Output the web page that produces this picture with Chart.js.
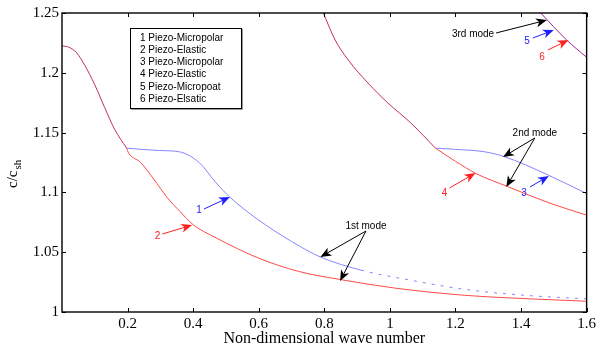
<!DOCTYPE html>
<html lang="en">
<head>
<meta charset="UTF-8">
<title>Dispersion curves</title>
<script src="https://cdn.jsdelivr.net/npm/chart.js"></script>
<style>
    html, body { margin: 0; padding: 0; background: #fff; }
    #wrap { width: 599px; height: 347px; position: relative; }
</style>
</head>
<body>
<div id="wrap"><canvas id="chart"></canvas></div>
<script>
    // tick labels
    const xTicks = [0.2, 0.4, 0.6, 0.8, 1.0, 1.2, 1.4, 1.6];
    const yTicks = [1, 1.05, 1.1, 1.15, 1.2, 1.25];

    // 1st mode: common part, then micropolar (1) and elastic (2)
    const m1SharedX = [0, 0.02, 0.045, 0.07, 0.1, 0.13, 0.16, 0.197];
    const m1SharedY = [1.2225, 1.2215, 1.2166, 1.206, 1.190, 1.171, 1.153, 1.137];
    const m1MicroX = [0.197, 0.297, 0.357, 0.418, 0.47, 0.512, 0.594, 0.7, 0.788, 0.912, 1.055, 1.227, 1.409, 1.6];
    const m1MicroY = [1.137, 1.135, 1.134, 1.125, 1.108, 1.096, 1.078, 1.059, 1.046, 1.035, 1.027, 1.019, 1.014, 1.011];
    const m1ElastX = [0.197, 0.203, 0.24, 0.28, 0.32, 0.36, 0.40, 0.47, 0.6, 0.721, 0.852, 1.015, 1.227, 1.427, 1.6];
    const m1ElastY = [1.137, 1.133, 1.125, 1.111, 1.096, 1.084, 1.073, 1.062, 1.045, 1.034, 1.027, 1.020, 1.014, 1.011, 1.009];

    // 2nd mode: common part, then micropolar (3) and elastic (4)
    const m2SharedX = [0.797, 0.833, 0.873, 0.933, 0.994, 1.064, 1.139];
    const m2SharedY = [1.25, 1.2274, 1.2107, 1.1915, 1.1747, 1.158, 1.137];
    const m2MicroX = [1.139, 1.2, 1.288, 1.348, 1.479, 1.6];
    const m2MicroY = [1.137, 1.136, 1.134, 1.130, 1.115, 1.099];
    const m2ElastX = [1.139, 1.2, 1.261, 1.358, 1.488, 1.6];
    const m2ElastY = [1.137, 1.126, 1.116, 1.105, 1.091, 1.081];

    // 3rd mode: micropolar (5) and elastic (6) coincide
    const m3X = [1.46, 1.539, 1.6];
    const m3Y = [1.25, 1.2274, 1.213];

    const legendLines = ['1 Piezo-Micropolar', '2 Piezo-Elastic', '3 Piezo-Micropolar',
                         '4 Piezo-Elastic', '5 Piezo-Micropoat', '6 Piezo-Elsatic'];

    const BLUE = '#8585ff';
    const RED = '#ff4a4a';
    const SHARED = '#c42a6c';
    const PURPLE = '#a0209c';

    // annotations: text + arrow(s) in data coordinates
    const notes = [
        { text: '1', color: '#2020ff', at: [0.418, 1.0853], align: 'center', arrows: [[[0.433, 1.0861], [0.512, 1.0962]]] },
        { text: '2', color: '#ff2020', at: [0.291, 1.0635], align: 'center', arrows: [[[0.306, 1.0652], [0.397, 1.0727]]] },
        { text: '4', color: '#ff2020', at: [1.167, 1.0995], align: 'center', arrows: [[[1.182, 1.1037], [1.261, 1.1162]]] },
        { text: '3', color: '#2020ff', at: [1.409, 1.0995], align: 'center', arrows: [[[1.427, 1.1045], [1.485, 1.1137]]] },
        { text: '2nd mode', color: '#000', at: [1.442, 1.1497], align: 'center',
          arrows: [[[1.442, 1.1455], [1.345, 1.1296]], [[1.442, 1.1455], [1.355, 1.1045]]] },
        { text: '1st mode', color: '#000', at: [0.927, 1.0719], align: 'center',
          arrows: [[[0.927, 1.0677], [0.788, 1.046]], [[0.927, 1.0677], [0.848, 1.0259]]] },
        { text: '3rd mode', color: '#000', at: [1.318, 1.2324], align: 'right', arrows: [[[1.324, 1.2333], [1.479, 1.2441]]] },
        { text: '5', color: '#2020ff', at: [1.418, 1.2266], align: 'center', arrows: [[[1.436, 1.2291], [1.5, 1.2358]]] },
        { text: '6', color: '#ff2020', at: [1.464, 1.2132], align: 'center', arrows: [[[1.482, 1.2191], [1.545, 1.2274]]] }
    ];

    function pts(xs, ys) {
        return xs.map((x, i) => ({ x: x, y: ys[i] }));
    }

    function line(data, color, extra) {
        return Object.assign({
            data: data,
            borderColor: color,
            borderWidth: 1,
            pointRadius: 0,
            fill: false,
            cubicInterpolationMode: 'monotone'
        }, extra || {});
    }

    function drawArrow(ctx, x1, y1, x2, y2, color) {
        const ang = Math.atan2(y2 - y1, x2 - x1);
        const len = 11, half = 4.5;
        ctx.strokeStyle = color;
        ctx.fillStyle = color;
        ctx.lineWidth = 1;
        ctx.beginPath();
        ctx.moveTo(x1, y1);
        ctx.lineTo(x2 - Math.cos(ang) * 6, y2 - Math.sin(ang) * 6);
        ctx.stroke();
        ctx.save();
        ctx.translate(x2, y2);
        ctx.rotate(ang);
        ctx.beginPath();
        ctx.moveTo(0, 0);
        ctx.lineTo(-len, -half);
        ctx.lineTo(-len + 3, 0);
        ctx.lineTo(-len, half);
        ctx.closePath();
        ctx.fill();
        ctx.restore();
    }

    const decorations = {
        id: 'decorations',
        afterDraw(chart) {
            const ctx = chart.ctx;
            const a = chart.chartArea;
            const xs = chart.scales.x, ys = chart.scales.y;
            ctx.save();

            // box
            ctx.strokeStyle = '#000';
            ctx.lineWidth = 1.4;
            ctx.strokeRect(a.left, a.top, a.right - a.left, a.bottom - a.top);

            // inward ticks
            ctx.lineWidth = 1;
            ctx.beginPath();
            xTicks.forEach(v => {
                const px = Math.round(xs.getPixelForValue(v)) + 0.5;
                ctx.moveTo(px, a.bottom); ctx.lineTo(px, a.bottom - 4);
                ctx.moveTo(px, a.top); ctx.lineTo(px, a.top + 4);
            });
            yTicks.forEach(v => {
                const py = Math.round(ys.getPixelForValue(v)) + 0.5;
                ctx.moveTo(a.left, py); ctx.lineTo(a.left + 4, py);
                ctx.moveTo(a.right, py); ctx.lineTo(a.right - 4, py);
            });
            ctx.stroke();

            // legend box
            const lx = a.left + 68, ly = a.top + 15, lw = 111, lh = 80;
            ctx.fillStyle = '#fff';
            ctx.fillRect(lx, ly, lw, lh);
            ctx.strokeStyle = '#999';
            ctx.beginPath();
            ctx.moveTo(lx + lw + 1.5, ly + 1); ctx.lineTo(lx + lw + 1.5, ly + lh + 1.5); ctx.lineTo(lx + 1, ly + lh + 1.5);
            ctx.stroke();
            ctx.strokeStyle = '#000';
            ctx.strokeRect(lx + 0.5, ly + 0.5, lw, lh);
            ctx.fillStyle = '#000';
            ctx.font = '10px "Liberation Sans", Arial, sans-serif';
            ctx.textAlign = 'left';
            ctx.textBaseline = 'middle';
            legendLines.forEach((t, i) => {
                ctx.fillText(t, lx + 10, ly + 10 + i * 12.2);
            });

            // annotations
            notes.forEach(n => {
                n.arrows.forEach(ar => {
                    drawArrow(ctx,
                        xs.getPixelForValue(ar[0][0]), ys.getPixelForValue(ar[0][1]),
                        xs.getPixelForValue(ar[1][0]), ys.getPixelForValue(ar[1][1]),
                        n.color);
                });
                ctx.fillStyle = n.color;
                ctx.textAlign = n.align;
                ctx.textBaseline = 'middle';
                ctx.font = '10px "Liberation Sans", Arial, sans-serif';
                ctx.fillText(n.text, xs.getPixelForValue(n.at[0]), ys.getPixelForValue(n.at[1]));
            });

            // axis titles
            ctx.fillStyle = '#000';
            ctx.font = '16px "Liberation Serif", "Times New Roman", serif';
            ctx.textAlign = 'center';
            ctx.textBaseline = 'middle';
            ctx.fillText('Non-dimensional wave number', (a.left + a.right) / 2, 339);

            ctx.save();
            ctx.translate(13, 188);
            ctx.rotate(-Math.PI / 2);
            ctx.textAlign = 'left';
            ctx.font = '15px "Liberation Serif", "Times New Roman", serif';
            ctx.fillText('c/c', 0, 0);
            const w = ctx.measureText('c/c').width;
            ctx.font = '11px "Liberation Serif", "Times New Roman", serif';
            ctx.fillText('sh', w + 1, 5);
            ctx.restore();

            ctx.restore();
        }
    };

    new Chart(document.getElementById('chart'), {
        type: 'line',
        data: {
            datasets: [
                line(pts(m1ElastX, m1ElastY), RED),
                line(pts(m1MicroX, m1MicroY), BLUE, {
                    segment: { borderDash: c => c.p0.parsed.x >= 0.91 ? [3, 6] : undefined }
                }),
                line(pts(m1SharedX, m1SharedY), SHARED),
                line(pts(m2ElastX, m2ElastY), RED),
                line(pts(m2MicroX, m2MicroY), BLUE),
                line(pts(m2SharedX, m2SharedY), SHARED),
                line(pts(m3X, m3Y), PURPLE)
            ]
        },
        options: {
            responsive: true,
            maintainAspectRatio: false,
            animation: false,
            layout: { padding: { top: 13, right: 9, left: 0, bottom: 0 } },
            plugins: { legend: { display: false }, tooltip: { enabled: false } },
            scales: {
                x: {
                    type: 'linear',
                    min: 0,
                    max: 1.6,
                    afterBuildTicks: s => { s.ticks = xTicks.map(v => ({ value: v })); },
                    afterFit: s => { s.height = 35; },
                    grid: { display: false, drawTicks: false },
                    border: { display: false },
                    ticks: {
                        padding: 3,
                        color: '#000',
                        maxRotation: 0,
                        autoSkip: false,
                        font: { family: '"Liberation Serif", "Times New Roman", serif', size: 15 },
                        callback: v => String(+v.toFixed(1))
                    }
                },
                y: {
                    type: 'linear',
                    min: 1,
                    max: 1.25,
                    afterBuildTicks: s => { s.ticks = yTicks.map(v => ({ value: v })); },
                    afterFit: s => { s.width = 62; },
                    grid: { display: false, drawTicks: false },
                    border: { display: false },
                    ticks: {
                        padding: 3,
                        color: '#000',
                        autoSkip: false,
                        font: { family: '"Liberation Serif", "Times New Roman", serif', size: 15 },
                        callback: v => String(+v.toFixed(2))
                    }
                }
            }
        },
        plugins: [decorations]
    });
</script>
</body>
</html>
